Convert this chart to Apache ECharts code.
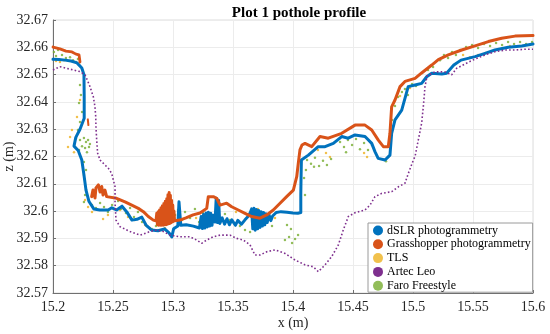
<!DOCTYPE html>
<html>
<head>
<meta charset="utf-8">
<script src="https://cdn.jsdelivr.net/npm/echarts@6/dist/echarts.min.js"></script>
<style>html,body{margin:0;padding:0;background:#fff}#c{width:550px;height:334px}</style>
</head>
<body>
<div id="c"></div>
<script>
// ---- axis ticks ----
const xTicks = [15.2, 15.25, 15.3, 15.35, 15.4, 15.45, 15.5, 15.55, 15.6];
const yTicks = [32.57, 32.58, 32.59, 32.6, 32.61, 32.62, 32.63, 32.64, 32.65, 32.66, 32.67];
const seriesNames = ['dSLR photogrammetry', 'Grasshopper photogrammetry', 'TLS', 'Artec Leo', 'Faro Freestyle'];

// ---- dSLR photogrammetry (x, z) ----
const dslr = [
[15.200,32.6556],[15.205,32.6555],[15.210,32.6553],[15.215,32.6550],[15.220,32.6543],[15.224,32.6524],[15.2258,32.650],[15.226,32.642],[15.226,32.634],[15.2225,32.630],[15.219,32.627],[15.2175,32.6238],[15.221,32.6222],[15.224,32.6187],[15.2258,32.6132],[15.2275,32.6077],[15.230,32.6035],[15.234,32.6008],[15.239,32.6004],[15.246,32.6004],[15.249,32.6012],[15.253,32.6004],[15.2575,32.6018],[15.2615,32.5997],[15.2658,32.5967],[15.270,32.5970],[15.274,32.5978],[15.2775,32.5949],[15.282,32.5931],[15.2875,32.5928],[15.293,32.5935],[15.2967,32.592],[15.299,32.5905],[15.3005,32.5935],
[15.304,32.5945],[15.305,32.6034],[15.3065,32.5948],[15.311,32.5950],[15.317,32.5945],[15.322,32.5938],
[15.3235,32.5980],[15.3245,32.5936],[15.3255,32.5988],[15.3265,32.5938],[15.3275,32.5993],[15.3285,32.5942],[15.3295,32.5996],[15.3305,32.5945],[15.3315,32.5992],[15.3325,32.5948],[15.3335,32.5985],
[15.335,32.5960],[15.336,32.6047],[15.337,32.5958],[15.338,32.6040],[15.339,32.5955],[15.341,32.5975],[15.343,32.5952],[15.345,32.5972],[15.347,32.5950],[15.349,32.5968],[15.352,32.5948],[15.354,32.5966],[15.357,32.5952],[15.360,32.5968],[15.3625,32.5980],[15.3642,32.5993],
[15.3655,32.6008],[15.3665,32.5935],[15.3675,32.6010],[15.3685,32.5930],[15.3695,32.6006],[15.3705,32.5935],[15.3715,32.6002],[15.3725,32.5940],[15.3735,32.5998],[15.3745,32.5945],[15.3755,32.5995],[15.3765,32.5950],[15.3775,32.5990],[15.3785,32.5958],[15.3800,32.5987],[15.3815,32.5965],[15.3830,32.5982],
[15.386,32.5995],[15.390,32.5998],[15.395,32.5996],[15.400,32.5993],[15.4040,32.5992],[15.4065,32.5995],[15.4065,32.606],[15.4067,32.612],[15.4070,32.6187],[15.4128,32.6205],[15.421,32.6236],[15.4267,32.6236],[15.4336,32.6248],[15.4406,32.6273],[15.446,32.6267],[15.4517,32.6279],[15.46,32.6273],[15.4656,32.6248],[15.4683,32.6218],[15.471,32.6193],[15.4767,32.6187],[15.4808,32.6205],[15.4822,32.6285],[15.485,32.6334],[15.4906,32.637],[15.496,32.6456],[15.5017,32.6462],[15.5072,32.6468],[15.5114,32.6492],[15.5156,32.6505],[15.524,32.6502],[15.528,32.6505],[15.534,32.6535],[15.540,32.6553],[15.5517,32.6566],[15.56,32.6578],[15.5683,32.659],[15.5794,32.6600],[15.5906,32.6605],[15.6,32.6612]
];

// ---- Grasshopper photogrammetry (x, z), three separate pieces ----
const grassTop = [[15.200,32.6601],[15.2058,32.6594],[15.2108,32.6586],[15.2158,32.6583],[15.2192,32.6575],[15.2217,32.6572],[15.2225,32.6546]];
const grassDots = [[15.2290,32.6336],[15.2295,32.6315]];
const grassMain = [
[15.2322,32.6053],[15.2333,32.6077],[15.235,32.6048],[15.2358,32.6085],[15.2378,32.6096],[15.2392,32.607],[15.2406,32.609],[15.2417,32.6059],[15.2433,32.6077],[15.2447,32.6053],[15.253,32.6047],[15.26,32.6034],[15.2656,32.6022],[15.2711,32.601],[15.2753,32.5998],[15.2794,32.598],[15.2836,32.5967],[15.2858,32.5964],
[15.2865,32.5992],[15.2870,32.5950],[15.2876,32.5998],[15.2882,32.5948],[15.2888,32.6004],[15.2894,32.5948],[15.2900,32.6012],[15.2906,32.5948],[15.2912,32.6020],[15.2918,32.5948],[15.2924,32.6028],[15.2930,32.5950],[15.2936,32.6036],[15.2942,32.5950],[15.2948,32.6045],[15.2953,32.5952],[15.2958,32.6060],[15.2963,32.5954],[15.2968,32.6068],[15.2973,32.5955],[15.2978,32.6058],[15.2983,32.5957],[15.2988,32.6040],[15.2993,32.5960],[15.2998,32.6022],[15.3003,32.5962],[15.3008,32.6000],[15.3013,32.5965],
[15.3058,32.5967],[15.3108,32.5975],[15.3167,32.5986],[15.3225,32.5993],[15.3281,32.601],[15.3294,32.6053],[15.3336,32.6053],[15.3364,32.6047],[15.3392,32.6022],[15.3447,32.6029],[15.3489,32.6016],[15.3544,32.6004],[15.36,32.5992],[15.3656,32.598],[15.3725,32.5974],[15.3781,32.5986],[15.3836,32.6004],[15.3892,32.6029],[15.3947,32.6053],[15.4003,32.6077],[15.4031,32.6126],[15.4044,32.6175],[15.4058,32.6224],[15.4075,32.6242],[15.41,32.6248],[15.4156,32.6236],[15.4225,32.6273],[15.4294,32.6267],[15.4406,32.6285],[15.4517,32.6315],[15.46,32.6315],[15.4656,32.6297],[15.4711,32.626],[15.4753,32.6236],[15.4794,32.6236],[15.4808,32.6285],[15.4822,32.6382],[15.485,32.6407],[15.4892,32.6456],[15.4933,32.6475],[15.5017,32.6486],[15.5072,32.6506],[15.5156,32.6535],[15.5211,32.6555],[15.5294,32.6572],[15.5406,32.659],[15.5517,32.6605],[15.5628,32.6621],[15.5739,32.6633],[15.585,32.6641],[15.6,32.6643]
];

// ---- TLS (x, z) ----
const tls = [
[15.2025,32.655],[15.2058,32.6546],[15.2092,32.6553],[15.2225,32.6407],[15.22,32.6345],[15.2158,32.6297],[15.2142,32.6271],[15.2125,32.6235],[15.2175,32.6216],
[15.2258,32.6132],[15.2275,32.6077],[15.2267,32.6041],[15.2292,32.6015],[15.2325,32.5997],[15.2358,32.6008],[15.2417,32.5971],[15.2458,32.5986],
[15.2558,32.6004],[15.2625,32.5978],[15.2683,32.5967],[15.2767,32.5949],[15.2808,32.5938],[15.2875,32.5931],[15.2933,32.5938],
[15.3075,32.5967],[15.3192,32.5975],[15.3375,32.5989],[15.3525,32.5997],[15.3708,32.6008],[15.385,32.5975],
[15.4208,32.6224],[15.4275,32.6213],[15.4308,32.6198],[15.4592,32.6213],[15.4617,32.6198],[15.4892,32.6422],[15.4975,32.6451],
[15.5417,32.6572],[15.5475,32.6564],[15.5542,32.6572],[15.5608,32.6579],[15.5808,32.6605],[15.5892,32.6605],[15.5975,32.6608]
];

// ---- Artec Leo (x, z) ----
const artec = [
[15.2,32.6517],[15.2058,32.6529],[15.2114,32.6523],[15.2169,32.6517],[15.2225,32.6511],[15.2267,32.6499],[15.2286,32.648],[15.2308,32.6456],[15.2336,32.6419],[15.235,32.6382],[15.2356,32.6346],[15.2358,32.6309],[15.2364,32.626],[15.2372,32.6212],[15.2392,32.6187],[15.2433,32.6169],[15.2461,32.6157],[15.2489,32.6138],[15.2517,32.6089],[15.2517,32.6029],[15.2525,32.5967],[15.2558,32.5943],[15.2642,32.5925],[15.2725,32.5912],[15.2808,32.5925],[15.2864,32.5931],[15.2919,32.5925],[15.2975,32.5912],[15.3058,32.5906],[15.3142,32.5906],[15.3197,32.5894],[15.3239,32.5882],[15.3281,32.5894],[15.3336,32.5906],[15.3392,32.5912],[15.3475,32.5912],[15.3531,32.59],[15.3586,32.5894],[15.3642,32.5876],[15.3683,32.5839],[15.3725,32.5839],[15.3781,32.5851],[15.385,32.5858],[15.3933,32.5845],[15.4017,32.5821],[15.41,32.5803],[15.4169,32.5796],[15.4211,32.5778],[15.4267,32.5803],[15.4322,32.5833],[15.4378,32.5876],[15.4419,32.5931],[15.4461,32.598],[15.4517,32.5994],[15.46,32.6004],[15.4642,32.6022],[15.4683,32.6053],[15.4739,32.6065],[15.4822,32.6071],[15.4878,32.6089],[15.4933,32.6102],[15.4961,32.6138],[15.5003,32.6187],[15.5017,32.62],[15.5044,32.626],[15.5072,32.6322],[15.5086,32.6382],[15.51,32.6456],[15.5117,32.6495],[15.5183,32.651],[15.5267,32.651],[15.5322,32.6499],[15.5364,32.6523],[15.5433,32.6539],[15.5517,32.6557],[15.56,32.6572],[15.5683,32.6584],[15.5767,32.659],[15.585,32.659],[15.5933,32.6593],[15.6,32.6593]
];

// ---- Faro Freestyle (x, z) ----
const faro = [
[15.2008,32.6583],[15.2025,32.6568],[15.2042,32.659],[15.2075,32.6572],[15.2108,32.6561],[15.2142,32.6564],[15.2167,32.6553],[15.2192,32.6546],[15.2208,32.6557],
[15.2225,32.6462],[15.2233,32.6425],[15.2217,32.6396],[15.2242,32.6363],[15.2225,32.6326],[15.2208,32.6297],
[15.2192,32.6268],[15.2225,32.626],[15.2258,32.6268],[15.2275,32.6253],[15.2292,32.626],[15.2242,32.6238],[15.2267,32.6231],[15.23,32.6235],[15.2217,32.6224],[15.2283,32.6216],[15.2308,32.6246],[15.2258,32.618],[15.2275,32.6151],[15.2267,32.6059],[15.2258,32.6033],
[15.2325,32.6022],[15.2358,32.6011],[15.2392,32.603],[15.2425,32.6015],[15.2458,32.5997],[15.2492,32.6022],[15.2542,32.6037],[15.2567,32.6008],[15.2608,32.5993],[15.2642,32.6011],[15.2675,32.5978],[15.2708,32.5997],[15.2742,32.596],[15.2783,32.5945],[15.2825,32.5934],[15.2858,32.5945],[15.2908,32.5931],
[15.3017,32.5986],[15.3042,32.6004],[15.31,32.5997],[15.3142,32.5975],[15.3183,32.6008],[15.3217,32.596],[15.325,32.5993],[15.3275,32.5953],[15.3433,32.5989],[15.3475,32.5967],[15.3517,32.5953],[15.3558,32.5945],[15.36,32.5931],[15.3642,32.5923],[15.3692,32.5997],[15.3775,32.5967],[15.3825,32.5945],
[15.3933,32.5894],[15.3967,32.5905],[15.3992,32.5883],[15.4017,32.5898],[15.4042,32.5912],[15.395,32.5949],[15.3983,32.5934],
[15.41,32.6059],[15.4092,32.6121],[15.4108,32.6151],
[15.4117,32.6187],[15.415,32.6173],[15.4183,32.6195],[15.4217,32.6165],[15.425,32.6184],[15.4283,32.6169],[15.4317,32.6191],[15.4175,32.6162],
[15.4392,32.6253],[15.4425,32.6235],[15.4458,32.626],[15.4492,32.6242],[15.4525,32.6264],[15.4558,32.6227],[15.4592,32.6249],[15.4625,32.6224],[15.4658,32.6242],[15.4442,32.6216],[15.4775,32.6183],[15.4792,32.6198],
[15.4825,32.6334],[15.485,32.6385],[15.4875,32.6418],[15.4908,32.6436],[15.4933,32.6447],[15.4958,32.6425],[15.4992,32.6466],[15.5025,32.6458],
[15.5075,32.6506],[15.5125,32.6517],[15.5167,32.6528],[15.5225,32.6553],[15.5258,32.6572],[15.5292,32.6561],[15.5325,32.6583],[15.5358,32.6572],[15.5392,32.659],[15.5442,32.6601],[15.5492,32.6608],[15.5542,32.6597],[15.5592,32.6612],[15.5642,32.6605],[15.5692,32.6616],[15.5742,32.6608],[15.5792,32.6619],[15.5842,32.6612],[15.5892,32.6619],[15.5942,32.6612],[15.5992,32.6619]
];

const colors = ['#0072BD', '#D95319', '#EDB120', '#7E2F8E', '#77AC30'];
const FONT = '"Liberation Serif", "Times New Roman", serif';

const chart = echarts.init(document.getElementById('c'), null, {renderer: 'canvas'});
const lineSeries = (name, data, color, w) => ({
  name, type: 'line', data, showSymbol: false, symbol: 'none', silent: true,
  lineStyle: {color, width: w, join: 'round', cap: 'round'}, itemStyle: {color}, animation: false
});
chart.setOption({
  animation: false,
  color: colors,
  title: {
    text: 'Plot 1 pothole profile', left: 294, top: 1, textAlign: 'center',
    textStyle: {fontFamily: FONT, fontSize: 15, fontWeight: 'bold', color: '#000'}
  },
  grid: {left: 53, right: 17, top: 20, bottom: 41, show: true, borderColor: '#dcdcdc', borderWidth: 1,
         containLabel: false, outerBoundsMode: 'none'},
  xAxis: {
    type: 'value', min: xTicks[0], max: xTicks[xTicks.length - 1], interval: 0.05,
    name: 'x (m)', nameLocation: 'middle', nameGap: 23, nameMoveOverlap: false,
    nameTextStyle: {fontFamily: FONT, fontSize: 14, color: '#262626'},
    axisLine: {show: true, lineStyle: {color: '#707070', width: 1}},
    axisTick: {show: true, inside: true, length: 3, lineStyle: {color: '#707070'}},
    axisLabel: {fontFamily: FONT, fontSize: 14, color: '#262626', margin: 7},
    splitLine: {show: true, lineStyle: {color: '#ececec', width: 1}}
  },
  yAxis: {
    type: 'value', min: yTicks[0], max: yTicks[yTicks.length - 1], interval: 0.01,
    name: 'z (m)', nameLocation: 'middle', nameGap: 37, nameRotate: 90, nameMoveOverlap: false,
    nameTextStyle: {fontFamily: FONT, fontSize: 14, color: '#262626'},
    axisLine: {show: true, lineStyle: {color: '#707070', width: 1}},
    axisTick: {show: true, inside: true, length: 3, lineStyle: {color: '#707070'}},
    axisLabel: {fontFamily: FONT, fontSize: 14, color: '#262626', margin: 5},
    splitLine: {show: true, lineStyle: {color: '#ececec', width: 1}}
  },
  legend: {
    data: seriesNames.map(n => ({name: n, icon: 'circle'})),
    orient: 'vertical', left: 368, top: 223,
    itemWidth: 10, itemHeight: 10, itemGap: 0.8,
    padding: [1, 2, 0, 5],
    backgroundColor: '#fff', borderColor: '#9a9a9a', borderWidth: 1, borderRadius: 0,
    textStyle: {fontFamily: FONT, fontSize: 12, lineHeight: 13, color: '#000', padding: [0, 0, 0, -1]}
  },
  series: [
    lineSeries(seriesNames[0], dslr, colors[0], 3),
    lineSeries(seriesNames[1], grassTop, colors[1], 2.8),
    lineSeries(seriesNames[1], grassDots, colors[1], 2),
    lineSeries(seriesNames[1], grassMain, colors[1], 3),
    {name: seriesNames[2], type: 'scatter', data: tls, symbol: 'circle', symbolSize: 2.5, itemStyle: {color: colors[2]}, silent: true},
    {name: seriesNames[3], type: 'line', data: artec, showSymbol: false, symbol: 'none', silent: true,
     itemStyle: {color: colors[3]}, lineStyle: {color: colors[3], width: 1.6, type: [1.6, 2.2]}},
    {name: seriesNames[4], type: 'scatter', data: faro, symbol: 'circle', symbolSize: 2.5, itemStyle: {color: colors[4]}, silent: true}
  ]
});
</script>
</body>
</html>
